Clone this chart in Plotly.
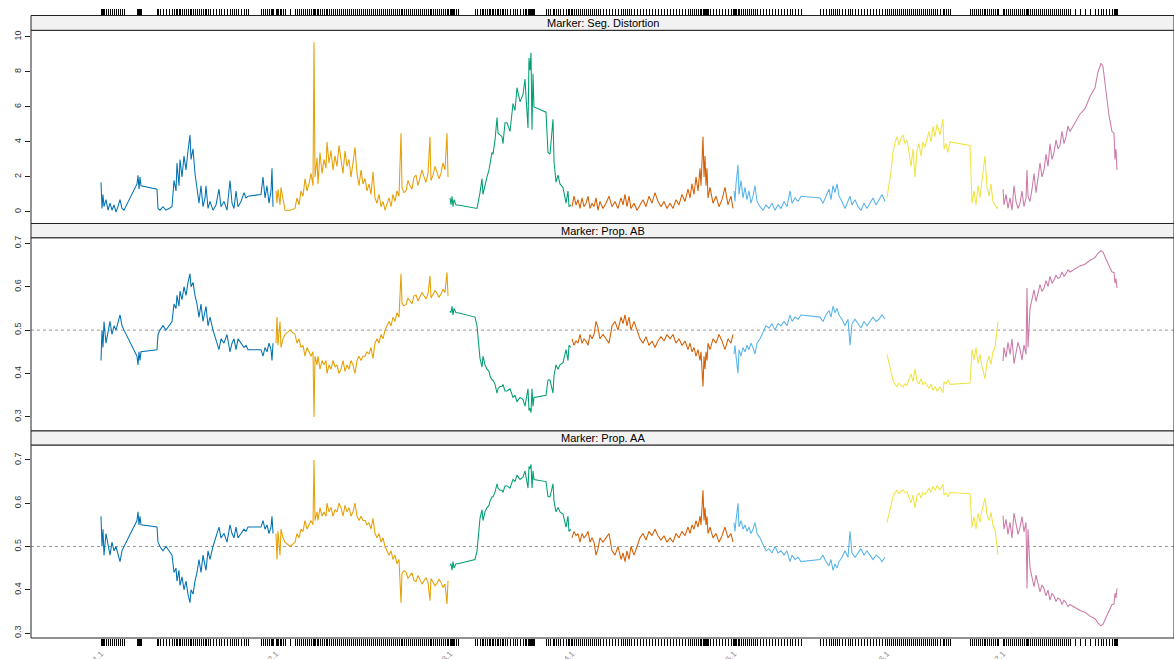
import plotly.graph_objects as go

# ---------------- data ----------------
chromosomes = ["1", "2", "3", "4", "5", "6", "7"]
chrom_colors = ["#0072B2", "#E69F00", "#009E73", "#D55E00", "#56B4E9", "#F0E442", "#CC79A7"]
panel_titles = ["Marker: Seg. Distortion", "Marker: Prop. AB", "Marker: Prop. AA"]

# marker positions (cumulative map units)
pos_c1 = [101,102,103,104,106,108,110,112,114,116,118,120,122,124,137,138,139,140,141,157,158,160,163,166,169,172,
          174,176,177,179,180,182,184,186,188,190,191,193,195,197,199,201,203,205,206,208,210,213,216,219,221,224,227,
          230,232,234,236,238,241,244,246,248,261,263,265,267,269,271,272,273]
pos_c2 = [276,277,278,280,281,283,285,290,295,297,299,301,303,305,307,309,311,313,314,315,317,318,320,322,324,326,327,329,
          331,333,335,337,339,341,343,345,347,349,351,353,355,357,359,361,363,365,367,369,371,373,375,377,379,381,383,385,
          387,389,391,393,395,397,399,401,402,404,406,408,410,412,414,416,418,420,422,424,426,428,430,431,433,435,437,439,
          441,443,445,447,448]
pos_c3 = [450,451,452,453,454,456,458,475,477,480,482,483,485,487,489,490,492,493,495,497,498,500,502,503,505,507,510,513,
          515,517,520,523,525,526,528,529,530,531,532,533,534,546,548,550,553,554,556,558,560,563,566,568,569,571]
pos_c4 = [572,574,576,578,580,582,584,586,588,590,592,594,596,598,600,603,606,609,612,615,618,621,623,625,627,629,631,634,
          637,640,643,646,649,652,655,658,661,664,667,670,673,676,679,682,685,688,690,692,694,696,698,700,701,703,704,705,
          706,707,708,710,713,716,719,722,725,728,731,733]
pos_c5 = [734,735,736,738,739,741,743,745,747,749,751,753,755,757,760,763,766,769,772,775,778,781,784,787,790,792,795,798,
          801,820,823,826,829,831,833,835,837,839,842,845,848,850,852,855,858,861,864,867,870,873,876,879,882,885]
pos_c6 = [887,889,891,893,895,897,899,901,903,905,907,909,911,913,915,917,919,921,923,925,927,929,931,933,935,937,940,943,
          944,946,948,950,970,972,974,976,978,980,982,984,985,987,989,991,993,995,997,998]
pos_c7 = [1003,1004,1006,1008,1010,1012,1014,1016,1018,1020,1022,1024,1026,1027,1028,1030,1032,1034,1036,1038,1040,1042,
          1044,1046,1048,1050,1052,1054,1056,1058,1060,1062,1064,1066,1068,1070,1075,1080,1085,1090,1095,1098,1101,1103,
          1106,1109,1112,1114,1115,1116,1117]

# segregation distortion (-log10 p)
seg_c1 = [1.7,0.2,1.0,0.3,0.7,0.1,0.5,0.1,0.4,0.0,0.3,0.7,0.2,0.1,1.6,2.1,1.3,2.0,1.5,1.3,0.2,0.1,0.3,0.1,0.2,0.3,
          1.8,1.2,2.8,1.5,3.0,2.0,3.2,2.4,3.5,4.4,3.0,3.6,2.2,1.4,0.5,1.5,0.3,0.8,1.5,0.2,0.6,0.1,0.4,1.3,0.3,0.6,0.1,
          1.8,0.5,0.2,1.2,0.3,0.6,1.1,0.8,0.9,1.0,2.0,0.8,1.5,0.5,1.2,2.5,0.3]
seg_c2 = [1.2,0.5,1.3,0.4,1.4,0.6,0.1,0.1,0.2,0.8,0.4,1.2,0.9,1.9,1.2,1.6,2.2,1.5,9.7,2.0,3.1,1.6,3.4,2.2,3.0,2.5,4.0,2.8,
          3.5,2.4,3.2,2.6,3.8,3.0,2.2,3.5,2.6,3.0,2.0,2.8,3.7,2.2,1.5,2.4,1.6,1.9,1.2,1.6,1.0,2.3,0.8,0.5,1.0,0.3,0.6,0.1,
          0.4,0.8,0.3,1.0,0.6,1.2,0.9,4.5,1.4,1.1,1.2,1.8,1.5,1.3,2.0,2.1,1.5,1.9,2.4,2.0,1.7,2.2,4.3,1.8,2.1,2.6,2.3,1.9,
          2.2,2.8,2.4,4.5,2.0]
seg_c3 = [0.8,0.4,0.9,0.3,0.7,0.4,0.4,0.2,0.2,1.1,1.9,1.0,1.6,2.0,2.4,2.8,3.4,3.3,4.1,5.4,4.5,4.4,4.3,3.9,5.1,5.1,4.6,6.2,
          5.8,7.1,6.3,6.7,7.6,6.6,4.8,8.8,8.1,9.1,4.7,7.9,6.0,5.7,3.4,3.3,5.3,2.9,1.7,2.1,1.6,1.4,0.5,1.2,0.3,0.4]
seg_c4 = [0.3,0.9,0.4,0.7,0.2,0.8,0.3,0.5,0.9,0.2,0.5,0.3,0.8,0.1,0.6,0.2,0.5,0.9,0.3,0.6,0.2,0.8,0.4,1.0,0.3,0.9,0.2,0.5,
          0.1,0.4,0.7,0.3,0.9,0.5,1.1,0.6,0.3,0.6,0.2,0.5,0.2,0.7,0.4,1.0,0.6,1.3,0.8,1.6,1.0,2.0,1.2,2.5,1.5,4.3,2.0,3.2,
          1.5,2.5,0.8,1.4,0.5,0.9,0.3,0.7,1.4,0.4,0.9,0.2]
seg_c5 = [1.2,0.6,1.6,2.7,1.0,1.8,0.8,1.4,0.7,1.2,0.5,0.9,1.5,0.6,0.3,0.1,0.4,0.2,0.5,0.1,0.4,0.2,0.6,0.3,1.2,0.5,0.8,0.6,
          0.9,0.8,0.5,0.9,1.3,0.7,1.5,1.1,1.6,0.9,0.6,0.2,0.6,0.9,0.4,0.7,0.3,0.1,0.5,0.2,0.5,0.8,0.4,0.7,1.0,0.6]
seg_c6 = [0.8,1.5,2.3,3.4,4.0,4.3,3.8,4.2,4.4,3.9,4.1,3.4,2.6,3.6,2.0,3.5,3.9,3.2,4.0,3.7,4.2,4.6,4.0,4.9,4.3,5.0,4.4,5.3,
          3.6,3.9,3.4,4.0,3.8,0.5,1.2,0.4,1.5,0.8,1.8,2.6,3.2,1.4,0.9,1.6,0.6,0.4,0.2,0.3]
seg_c7 = [1.3,0.4,1.0,0.2,0.8,0.1,1.5,0.6,0.2,0.5,1.2,0.3,0.8,2.4,0.9,0.6,1.3,2.2,1.1,1.9,2.8,2.0,2.4,3.3,2.6,3.9,3.0,3.4,
          4.1,3.6,3.8,4.6,3.9,4.3,4.9,4.6,5.1,5.6,5.9,6.6,7.1,8.0,8.5,8.3,6.9,5.5,4.6,4.5,3.0,3.6,2.4]

# proportion AB
ab_c1 = [0.43,0.50,0.46,0.52,0.47,0.50,0.52,0.49,0.51,0.50,0.52,0.535,0.51,0.50,0.44,0.42,0.45,0.43,0.45,0.455,0.49,0.50,
         0.51,0.50,0.51,0.52,0.56,0.55,0.58,0.555,0.59,0.57,0.60,0.58,0.61,0.63,0.60,0.61,0.58,0.56,0.53,0.56,0.52,0.54,
         0.555,0.51,0.53,0.50,0.48,0.455,0.48,0.47,0.49,0.45,0.47,0.48,0.455,0.48,0.47,0.46,0.465,0.455,0.455,0.44,0.46,
         0.45,0.47,0.455,0.43,0.47]
ab_c2 = [0.47,0.53,0.465,0.52,0.46,0.48,0.49,0.50,0.49,0.47,0.48,0.46,0.465,0.44,0.46,0.45,0.44,0.45,0.30,0.44,0.42,0.44,
         0.41,0.43,0.42,0.43,0.40,0.42,0.41,0.43,0.415,0.42,0.40,0.41,0.43,0.405,0.42,0.41,0.43,0.42,0.40,0.43,0.44,0.43,
         0.44,0.44,0.45,0.445,0.46,0.435,0.47,0.48,0.47,0.49,0.48,0.50,0.51,0.52,0.51,0.53,0.52,0.54,0.53,0.63,0.562,0.556,
         0.559,0.574,0.567,0.561,0.579,0.581,0.567,0.576,0.587,0.579,0.572,0.583,0.625,0.574,0.581,0.591,0.585,0.576,0.583,
         0.595,0.587,0.633,0.579]
ab_c3 = [0.544,0.54,0.555,0.535,0.55,0.54,0.54,0.53,0.51,0.435,0.415,0.44,0.42,0.41,0.405,0.395,0.385,0.385,0.375,0.355,
         0.365,0.37,0.37,0.375,0.36,0.36,0.365,0.345,0.35,0.335,0.345,0.34,0.325,0.34,0.365,0.315,0.32,0.31,0.365,0.325,
         0.345,0.35,0.385,0.385,0.355,0.395,0.42,0.41,0.42,0.425,0.455,0.43,0.465,0.46]
ab_c4 = [0.48,0.465,0.475,0.47,0.49,0.47,0.48,0.475,0.465,0.49,0.48,0.49,0.52,0.505,0.48,0.49,0.48,0.47,0.51,0.52,0.50,
         0.53,0.515,0.535,0.51,0.53,0.50,0.52,0.50,0.48,0.47,0.485,0.465,0.475,0.46,0.475,0.485,0.475,0.49,0.48,0.49,0.47,
         0.48,0.465,0.475,0.455,0.47,0.45,0.46,0.44,0.455,0.43,0.45,0.37,0.44,0.41,0.45,0.43,0.47,0.455,0.48,0.47,0.49,
         0.475,0.455,0.48,0.47,0.49]
ab_c5 = [0.445,0.465,0.44,0.40,0.455,0.44,0.46,0.45,0.465,0.455,0.47,0.46,0.445,0.47,0.48,0.495,0.51,0.505,0.515,0.50,
         0.515,0.51,0.52,0.51,0.535,0.52,0.53,0.525,0.535,0.53,0.52,0.535,0.545,0.53,0.555,0.54,0.55,0.535,0.525,0.51,
         0.525,0.465,0.515,0.525,0.515,0.505,0.52,0.51,0.52,0.53,0.52,0.525,0.535,0.525]
ab_c6 = [0.444,0.423,0.405,0.385,0.375,0.37,0.378,0.372,0.369,0.376,0.373,0.385,0.399,0.381,0.411,0.383,0.376,0.388,0.375,
         0.38,0.372,0.366,0.375,0.361,0.37,0.36,0.369,0.356,0.381,0.376,0.385,0.375,0.378,0.456,0.431,0.46,0.423,0.444,
         0.416,0.399,0.388,0.426,0.44,0.421,0.451,0.46,0.51,0.52]
ab_c7 = [0.429,0.46,0.437,0.472,0.444,0.48,0.423,0.451,0.472,0.456,0.431,0.466,0.444,0.597,0.46,0.549,0.571,0.593,0.566,
         0.586,0.605,0.589,0.597,0.614,0.601,0.624,0.608,0.615,0.627,0.619,0.622,0.634,0.624,0.63,0.639,0.634,0.641,0.648,
         0.652,0.661,0.667,0.677,0.683,0.68,0.664,0.647,0.634,0.633,0.608,0.619,0.597]

# proportion AA
aa_c1 = [0.57,0.50,0.54,0.48,0.53,0.50,0.48,0.51,0.49,0.50,0.48,0.465,0.49,0.50,0.56,0.58,0.55,0.57,0.55,0.545,0.51,0.50,
         0.49,0.50,0.49,0.48,0.44,0.45,0.42,0.445,0.41,0.43,0.40,0.42,0.39,0.37,0.40,0.39,0.42,0.44,0.47,0.44,0.48,0.46,
         0.445,0.49,0.47,0.50,0.52,0.545,0.52,0.53,0.51,0.55,0.53,0.52,0.545,0.52,0.53,0.54,0.535,0.545,0.545,0.56,0.54,
         0.55,0.53,0.545,0.57,0.53]
aa_c2 = [0.53,0.47,0.535,0.48,0.54,0.52,0.51,0.50,0.51,0.53,0.52,0.54,0.535,0.56,0.54,0.55,0.56,0.55,0.70,0.56,0.58,0.56,
         0.59,0.57,0.58,0.57,0.60,0.58,0.59,0.57,0.585,0.58,0.60,0.59,0.57,0.595,0.58,0.59,0.57,0.58,0.60,0.57,0.56,0.57,
         0.56,0.56,0.55,0.555,0.54,0.565,0.53,0.52,0.53,0.51,0.52,0.50,0.49,0.48,0.49,0.47,0.48,0.46,0.47,0.37,0.438,0.444,
         0.441,0.426,0.433,0.439,0.421,0.419,0.433,0.424,0.413,0.421,0.428,0.417,0.375,0.426,0.419,0.409,0.415,0.424,0.417,
         0.405,0.413,0.367,0.421]
aa_c3 = [0.456,0.46,0.445,0.465,0.45,0.46,0.46,0.47,0.49,0.565,0.585,0.56,0.58,0.59,0.595,0.605,0.615,0.615,0.625,0.645,
         0.635,0.63,0.63,0.625,0.64,0.64,0.635,0.655,0.65,0.665,0.655,0.66,0.675,0.66,0.635,0.685,0.68,0.69,0.635,0.675,
         0.655,0.65,0.615,0.615,0.645,0.605,0.58,0.59,0.58,0.575,0.545,0.57,0.535,0.54]
aa_c4 = [0.52,0.535,0.525,0.53,0.51,0.53,0.52,0.525,0.535,0.51,0.52,0.51,0.48,0.495,0.52,0.51,0.52,0.53,0.49,0.48,0.50,
         0.47,0.485,0.465,0.49,0.47,0.50,0.48,0.50,0.52,0.53,0.515,0.535,0.525,0.54,0.525,0.515,0.525,0.51,0.52,0.51,0.53,
         0.52,0.535,0.525,0.545,0.53,0.55,0.54,0.56,0.545,0.57,0.55,0.63,0.56,0.59,0.55,0.57,0.53,0.545,0.52,0.53,0.51,
         0.525,0.545,0.52,0.53,0.51]
aa_c5 = [0.555,0.535,0.56,0.60,0.545,0.56,0.54,0.55,0.535,0.545,0.53,0.54,0.555,0.53,0.52,0.505,0.49,0.495,0.485,0.50,
         0.485,0.49,0.48,0.49,0.465,0.48,0.47,0.475,0.465,0.47,0.48,0.465,0.455,0.47,0.445,0.46,0.45,0.465,0.475,0.49,
         0.475,0.535,0.485,0.475,0.485,0.495,0.48,0.49,0.48,0.47,0.48,0.475,0.465,0.475]
aa_c6 = [0.556,0.577,0.595,0.615,0.625,0.63,0.622,0.628,0.631,0.624,0.627,0.615,0.601,0.619,0.589,0.617,0.624,0.612,0.625,
         0.62,0.628,0.634,0.625,0.639,0.63,0.64,0.631,0.644,0.619,0.624,0.615,0.625,0.622,0.544,0.569,0.54,0.577,0.556,
         0.584,0.601,0.612,0.574,0.56,0.579,0.549,0.54,0.49,0.48]
aa_c7 = [0.571,0.54,0.563,0.528,0.556,0.52,0.577,0.549,0.528,0.544,0.569,0.534,0.556,0.403,0.54,0.451,0.429,0.407,0.434,
         0.414,0.395,0.411,0.403,0.386,0.399,0.376,0.392,0.385,0.373,0.381,0.378,0.366,0.376,0.37,0.361,0.366,0.359,0.352,
         0.348,0.339,0.333,0.323,0.317,0.32,0.336,0.353,0.366,0.367,0.392,0.381,0.403]

seg_ticks = [0, 2, 4, 6, 8, 10]
prop_ticks = [0.3, 0.4, 0.5, 0.6, 0.7]
prop_tick_labels = ["0.3", "0.4", "0.5", "0.6", "0.7"]
reference_line = 0.5

positions = [pos_c1, pos_c2, pos_c3, pos_c4, pos_c5, pos_c6, pos_c7]
seg_vals = [seg_c1, seg_c2, seg_c3, seg_c4, seg_c5, seg_c6, seg_c7]
ab_vals = [ab_c1, ab_c2, ab_c3, ab_c4, ab_c5, ab_c6, ab_c7]
aa_vals = [aa_c1, aa_c2, aa_c3, aa_c4, aa_c5, aa_c6, aa_c7]

# ---------------- figure ----------------
W, H = 1174, 659
FONT = "Liberation Sans, Arial, Helvetica, sans-serif"

fig = go.Figure()
for k in range(len(chromosomes)):
    for p, vals in enumerate([seg_vals[k], ab_vals[k], aa_vals[k]]):
        suf = "" if p == 0 else str(p + 1)
        fig.add_trace(go.Scatter(
            x=positions[k], y=vals, mode="lines",
            line=dict(color=chrom_colors[k], width=1.05),
            xaxis="x" + suf, yaxis="y" + suf,
            showlegend=False, hoverinfo="skip"))

all_pos = [x for plist in positions for x in plist]
first_pos = {plist[0]: "M%s.1" % c for plist, c in zip(positions, chromosomes)}
rug_text = [first_pos.get(x, "") for x in all_pos]

# vertical layout (paper fractions)
d3 = [0.0, 0.3025]
s3 = [0.3025, 0.3245]
d2 = [0.3245, 0.6274]
s2 = [0.6274, 0.6497]
d1 = [0.6497, 0.9525]
s1 = [0.9525, 0.9757]

xr = [31, 1174]
common_y = dict(ticks="outside", ticklen=5, tickwidth=1, tickcolor="#222", automargin=False,
                tickangle=-90, tickfont=dict(size=9, color="#333", family=FONT),
                showgrid=False, zeroline=False, showline=False)

fig.update_layout(
    template="none",
    width=W, height=H, autosize=False,
    margin=dict(l=31, r=0, t=0, b=21, pad=0),
    paper_bgcolor="white", plot_bgcolor="white",
    font=dict(family=FONT),
    showlegend=False,
    xaxis=dict(range=xr, domain=[0, 1], anchor="free", position=s1[1], side="top", automargin=False,
               tickmode="array", tickvals=all_pos, ticks="outside", ticklen=7, tickwidth=1.4,
               tickcolor="black", showticklabels=False, showgrid=False, zeroline=False, showline=False),
    xaxis2=dict(range=xr, domain=[0, 1], anchor="y2", showticklabels=False, ticks="", automargin=False,
                showgrid=False, zeroline=False, showline=False),
    xaxis3=dict(range=xr, domain=[0, 1], anchor="y3", side="bottom", automargin=False,
                tickmode="array", tickvals=all_pos, ticktext=rug_text, ticks="outside", ticklen=7,
                tickwidth=1.4, tickcolor="black", tickangle=-45,
                tickfont=dict(size=8, color="#888", family=FONT),
                showgrid=False, zeroline=False, showline=False),
    yaxis=dict(domain=d1, range=[-0.66, 10.38], anchor="x", tickmode="array",
               tickvals=seg_ticks, ticktext=[str(v) for v in seg_ticks], **common_y),
    yaxis2=dict(domain=d2, range=[0.2677, 0.7129], anchor="x2", tickmode="array",
                tickvals=prop_ticks, ticktext=prop_tick_labels, **common_y),
    yaxis3=dict(domain=d3, range=[0.2885, 0.7346], anchor="x3", tickmode="array",
                tickvals=prop_ticks, ticktext=prop_tick_labels, **common_y),
)

shapes = []
for dom, yr in [(d2, "y2"), (d3, "y3")]:
    shapes.append(dict(type="line", xref="paper", yref=yr, x0=0, x1=1, y0=reference_line, y1=reference_line,
                       line=dict(color="#999", width=1, dash="3px,3px"), layer="below"))
for dom in [d1, d2, d3]:
    shapes.append(dict(type="rect", xref="paper", yref="paper", x0=0, x1=1, y0=dom[0], y1=dom[1],
                       line=dict(color="#222", width=1), fillcolor="rgba(0,0,0,0)", layer="above"))
annotations = []
for s, title in zip([s1, s2, s3], panel_titles):
    shapes.append(dict(type="rect", xref="paper", yref="paper", x0=0, x1=1, y0=s[0], y1=s[1],
                       line=dict(color="#222", width=1), fillcolor="#F2F2F2", layer="above"))
    annotations.append(dict(text=title, xref="paper", yref="paper", x=0.5, y=(s[0] + s[1]) / 2,
                            xanchor="center", yanchor="middle", showarrow=False,
                            font=dict(size=11, color="black", family=FONT)))
fig.update_layout(shapes=shapes, annotations=annotations)

fig.write_html(
    "out.html",
    config={"responsive": False, "displayModeBar": False},
    post_script="document.body.style.margin='0';document.body.style.overflow='hidden';"
                "Plotly.relayout('{plot_id}', {width: 1174, height: 659});",
)
